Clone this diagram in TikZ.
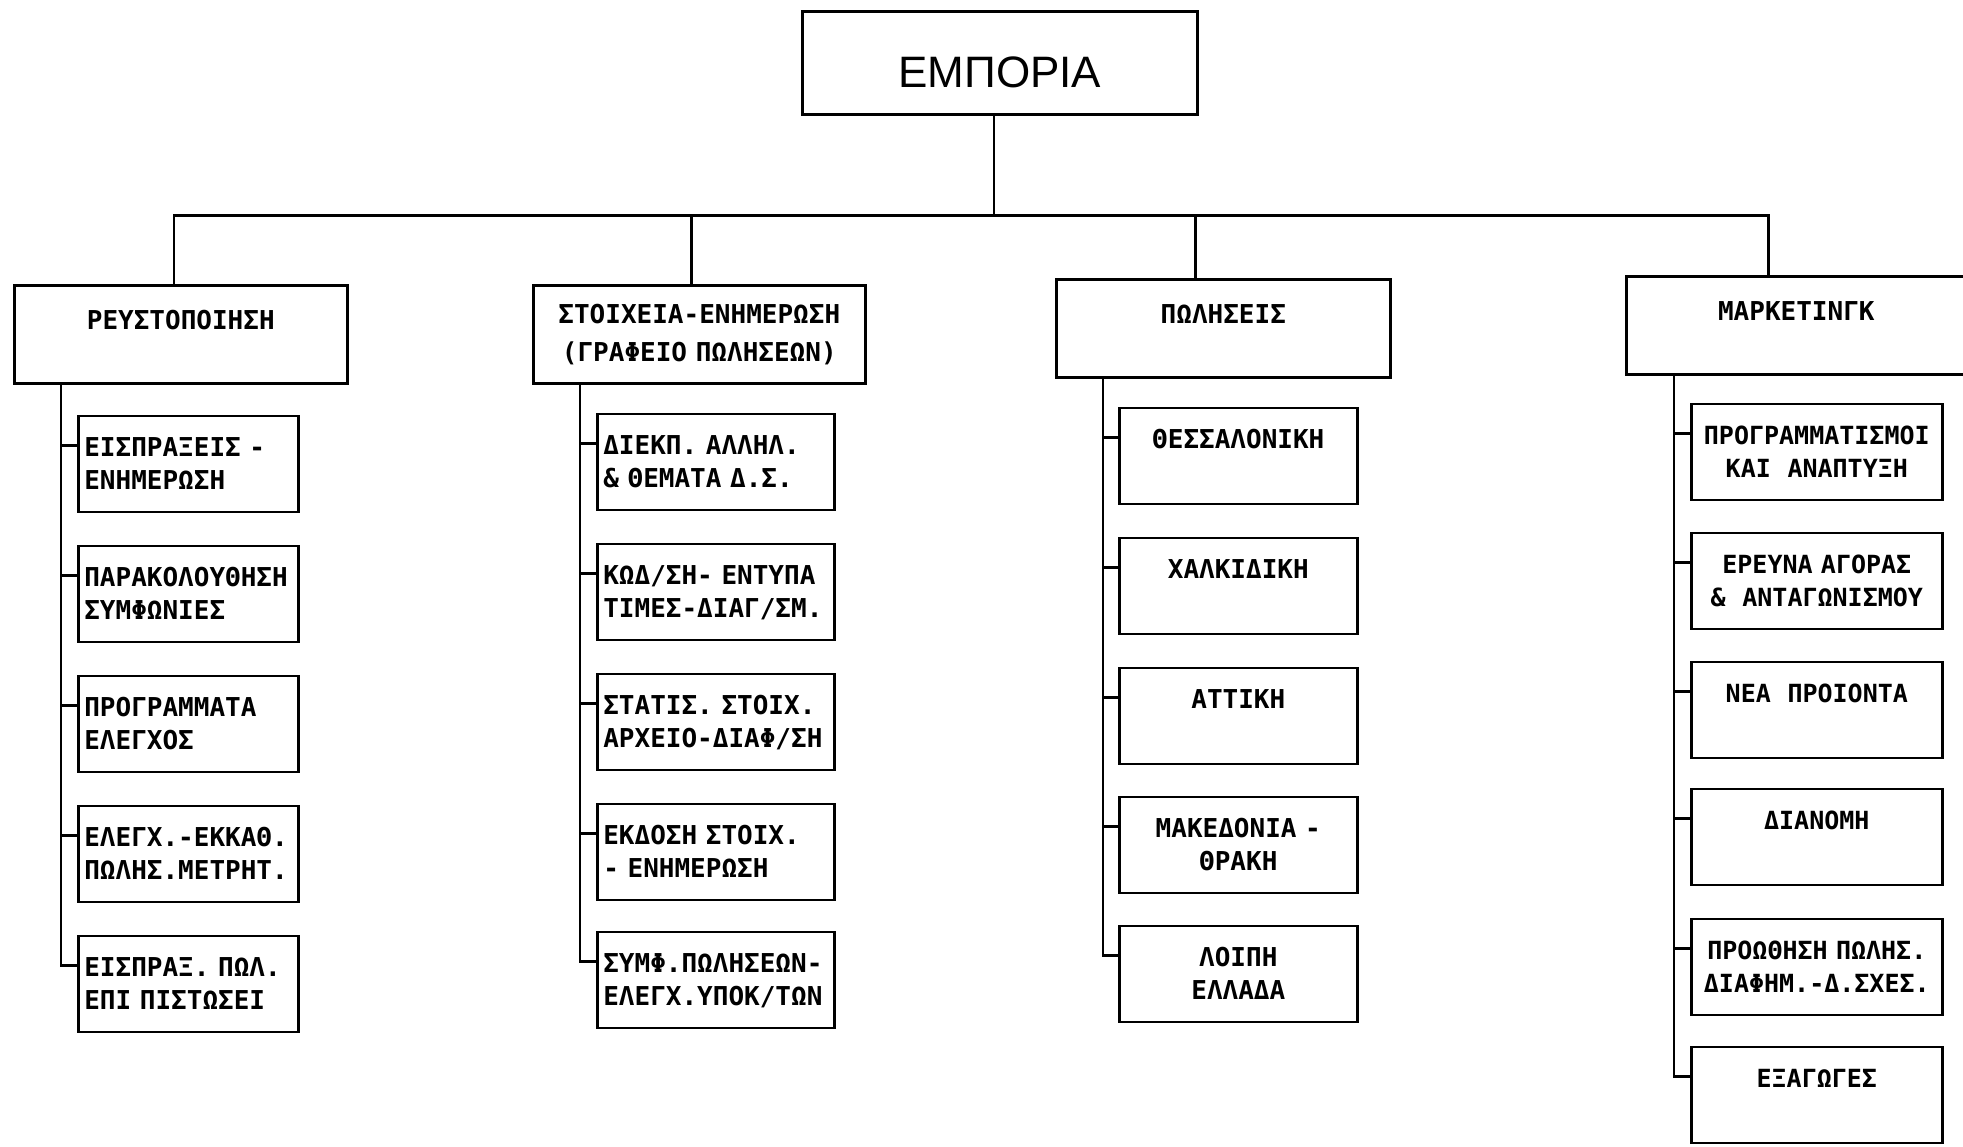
\documentclass[tikz,border=0pt]{standalone}
\usepackage{fontspec}
\setmonofont{DejaVu Sans Mono}
\newfontfamily\titlefont{Liberation Sans}
\tikzset{
  box/.style={draw, line width=1.3pt, inner ysep=0pt, anchor=north west},
  head/.style={box, inner xsep=4pt, align=center, text height=22pt, text depth=27pt,
    font=\ttfamily\bfseries\fontsize{13}{19}\selectfont},
  sub/.style={box, inner xsep=3pt, text height=20.5pt, text depth=27.5pt,
    font=\ttfamily\bfseries\fontsize{13}{16.5}\selectfont},
  cA/.style={sub, text width=104pt, align=left},
  cB/.style={sub, text width=112.5pt, align=left},
  cC/.style={sub, text width=113pt, align=center},
  cD/.style={sub, text width=119.5pt, align=center, font=\ttfamily\bfseries\fontsize{12.5}{16.5}\selectfont},
  link/.style={line width=1.2pt},
}
\begin{document}
\begin{tikzpicture}[x=0.5pt, y=-0.5pt]
  \useasboundingbox (0,0) rectangle (1963,1146);
  \clip (0,0) rectangle (1963,1146);
  \node[box, inner xsep=4pt, text width=189.5pt, align=center, text height=38pt, text depth=13.5pt,
    font=\titlefont\fontsize{22}{26}\selectfont] (emp) at (801,10) {ΕΜΠΟΡΙΑ};

  \node[head, text width=158.5pt] (reys) at (13,284)   {ΡΕΥΣΤΟΠΟΙΗΣΗ};
  \node[head, text width=158pt, text height=19pt, text depth=30pt]
                                  (stoi) at (532,284)  {ΣΤΟΙΧΕΙΑ-ΕΝΗΜΕΡΩΣΗ\\(ΓΡΑΦΕΙΟ ΠΩΛΗΣΕΩΝ)};
  \node[head, text width=159pt]   (pol)  at (1055,278) {ΠΩΛΗΣΕΙΣ};
  \node[head, text width=162pt]   (mark) at (1625,275) {ΜΑΡΚΕΤΙΝΓΚ};

  \node[cA] (r1) at ([shift={(64,30)}]  reys.south west) {ΕΙΣΠΡΑΞΕΙΣ -\\ΕΝΗΜΕΡΩΣΗ};
  \node[cA] (r2) at ([shift={(0,130)}]  r1.north west)   {ΠΑΡΑΚΟΛΟΥΘΗΣΗ\\ΣΥΜΦΩΝΙΕΣ};
  \node[cA] (r3) at ([shift={(0,130)}]  r2.north west)   {ΠΡΟΓΡΑΜΜΑΤΑ\\ΕΛΕΓΧΟΣ};
  \node[cA] (r4) at ([shift={(0,130)}]  r3.north west)   {ΕΛΕΓΧ.-ΕΚΚΑΘ.\\ΠΩΛΗΣ.ΜΕΤΡΗΤ.};
  \node[cA] (r5) at ([shift={(0,130)}]  r4.north west)   {ΕΙΣΠΡΑΞ. ΠΩΛ.\\ΕΠΙ ΠΙΣΤΩΣΕΙ};

  \node[cB] (s1) at ([shift={(64,28)}]  stoi.south west) {ΔΙΕΚΠ. ΑΛΛΗΛ.\\\& ΘΕΜΑΤΑ Δ.Σ.};
  \node[cB] (s2) at ([shift={(0,130)}]  s1.north west)   {ΚΩΔ/ΣΗ- ΕΝΤΥΠΑ\\ΤΙΜΕΣ-ΔΙΑΓ/ΣΜ.};
  \node[cB] (s3) at ([shift={(0,130)}]  s2.north west)   {ΣΤΑΤΙΣ. ΣΤΟΙΧ.\\ΑΡΧΕΙΟ-ΔΙΑΦ/ΣΗ};
  \node[cB] (s4) at ([shift={(0,130)}]  s3.north west)   {ΕΚΔΟΣΗ ΣΤΟΙΧ.\\- ΕΝΗΜΕΡΩΣΗ};
  \node[cB] (s5) at ([shift={(0,128)}]  s4.north west)   {ΣΥΜΦ.ΠΩΛΗΣΕΩΝ-\\ΕΛΕΓΧ.ΥΠΟΚ/ΤΩΝ};

  \node[cC] (p1) at ([shift={(63,28)}]  pol.south west)  {ΘΕΣΣΑΛΟΝΙΚΗ};
  \node[cC] (p2) at ([shift={(0,130)}]  p1.north west)   {ΧΑΛΚΙΔΙΚΗ};
  \node[cC] (p3) at ([shift={(0,130)}]  p2.north west)   {ΑΤΤΙΚΗ};
  \node[cC] (p4) at ([shift={(0,129)}]  p3.north west)   {ΜΑΚΕΔΟΝΙΑ -\\ΘΡΑΚΗ};
  \node[cC] (p5) at ([shift={(0,129)}]  p4.north west)   {ΛΟΙΠΗ\\ΕΛΛΑΔΑ};

  \node[cD] (m1) at ([shift={(65,27)}]  mark.south west) {ΠΡΟΓΡΑΜΜΑΤΙΣΜΟΙ\\ΚΑΙ\ \ ΑΝΑΠΤΥΞΗ};
  \node[cD] (m2) at ([shift={(0,129)}]  m1.north west)   {ΕΡΕΥΝΑ ΑΓΟΡΑΣ\\\&\ \ ΑΝΤΑΓΩΝΙΣΜΟΥ};
  \node[cD] (m3) at ([shift={(0,129)}]  m2.north west)   {ΝΕΑ\ \ ΠΡΟΙΟΝΤΑ};
  \node[cD] (m4) at ([shift={(0,127)}]  m3.north west)   {ΔΙΑΝΟΜΗ};
  \node[cD] (m5) at ([shift={(0,130)}]  m4.north west)   {ΠΡΟΩΘΗΣΗ ΠΩΛΗΣ.\\ΔΙΑΦΗΜ.-Δ.ΣΧΕΣ.};
  \node[cD] (m6) at ([shift={(0,128)}]  m5.north west)   {ΕΞΑΓΩΓΕΣ};

  \coordinate (bus) at ([shift={(-6,100)}] emp.south);
  \draw[link] ([shift={(-6,0)}] emp.south) -- (bus);
  \draw[link] ([shift={(-7,0)}]  reys.north) |- (bus);
  \draw[link] ([shift={(-8,0)}]  stoi.north) |- (bus);
  \draw[link] ([shift={(-28,0)}] pol.north)  |- (bus);
  \draw[link] ([shift={(-28,0)}] mark.north) |- (bus);

  \draw[link] ([shift={(48,0)}] reys.south west) |- ([shift={(0,31)}] r5.north west);
  \draw[link] ([shift={(48,0)}] stoi.south west) |- ([shift={(0,31)}] s5.north west);
  \draw[link] ([shift={(48,0)}] pol.south west)  |- ([shift={(0,31)}] p5.north west);
  \draw[link] ([shift={(49,0)}] mark.south west) |- ([shift={(0,31)}] m6.north west);
  \foreach \n in {r1,r2,r3,r4,s1,s2,s3,s4,p1,p2,p3,p4,m1,m2,m3,m4,m5}
    \draw[link] ([shift={(0,31)}] \n.north west) -- ++(-16,0);
\end{tikzpicture}
\end{document}
